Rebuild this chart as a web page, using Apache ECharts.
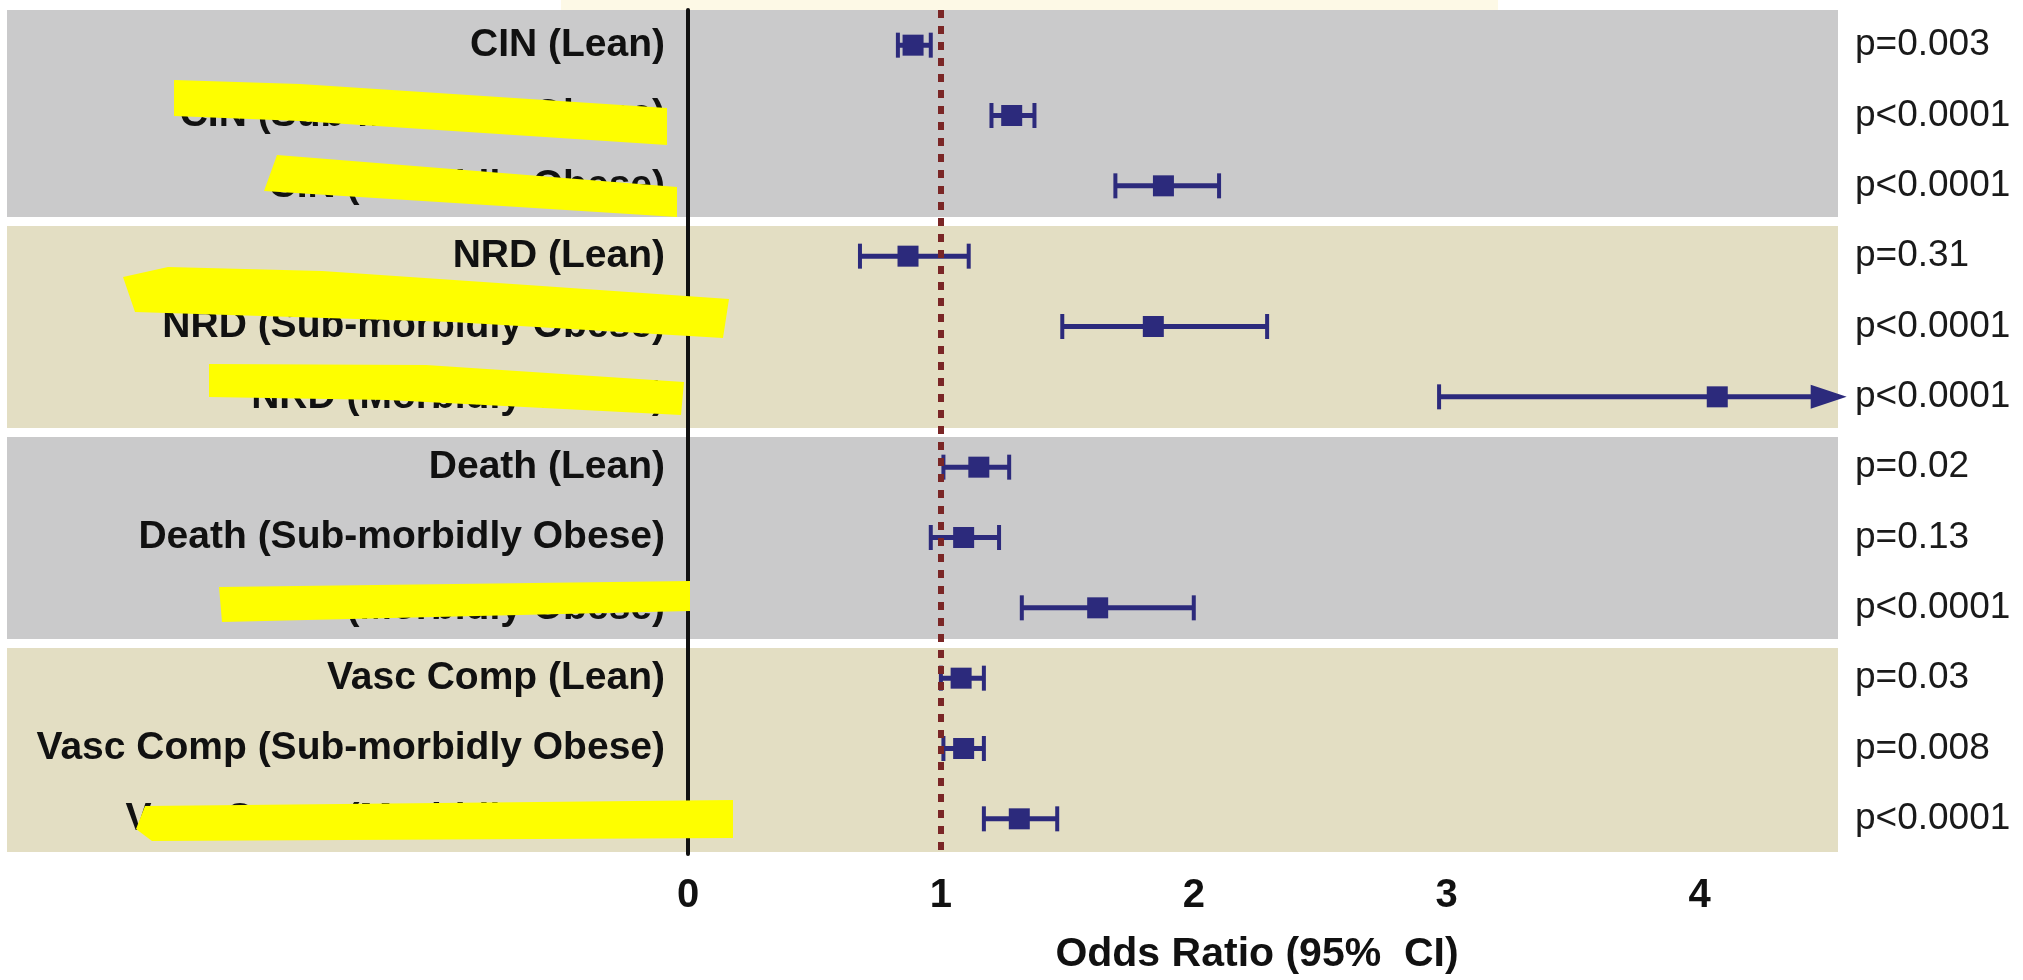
<!DOCTYPE html>
<html>
<head>
<meta charset="utf-8">
<script src="https://cdn.jsdelivr.net/npm/echarts@6/dist/echarts.min.js"></script>
<style>
  html, body { margin: 0; background: #fff; }
  #chart { width: 2023px; height: 980px; }
</style>
</head>
<body>
<div id="chart"></div>
<script>
// rows, top to bottom
var categories = [
  'CIN (Lean)', 'CIN (Sub-morbidly Obese)', 'CIN (Morbidly Obese)',
  'NRD (Lean)', 'NRD (Sub-morbidly Obese)', 'NRD (Morbidly Obese)',
  'Death (Lean)', 'Death (Sub-morbidly Obese)', 'Death (Morbidly Obese)',
  'Vasc Comp (Lean)', 'Vasc Comp (Sub-morbidly Obese)', 'Vasc Comp (Morbidly Obese)'
];
var oddsRatio = [0.89, 1.28, 1.88, 0.87, 1.84, 4.07, 1.15, 1.09, 1.62, 1.08, 1.09, 1.31];
var lowerCI   = [0.83, 1.20, 1.69, 0.68, 1.48, 2.97, 1.01, 0.96, 1.32, 1.00, 1.01, 1.17];
var upperCI   = [0.96, 1.37, 2.10, 1.11, 2.29, 4.57, 1.27, 1.23, 2.00, 1.17, 1.17, 1.46]; // 4.57 = off scale (arrow)
var pValues = [
  'p=0.003', 'p<0.0001', 'p<0.0001',
  'p=0.31', 'p<0.0001', 'p<0.0001',
  'p=0.02', 'p=0.13', 'p<0.0001',
  'p=0.03', 'p=0.008', 'p<0.0001'
];
var xTicks = [0, 1, 2, 3, 4];
var xMax = 4.5;
var refValue = 1;

// background groups (first row, last row)
var groupStart = [0, 3, 6, 9];
var groupEnd = [2, 5, 8, 11];
var bandColors = ['#cacacb', '#e3dec3', '#cacacb', '#e3dec3'];

var navy = '#2c2a7c';
var font = "'Liberation Sans', Arial, sans-serif";

function renderBand(params, api) {
  var cs = params.coordSys;
  var bandH = api.size([0, 1])[1];
  var first = api.value(1), last = api.value(2);
  var y0 = api.coord([0, first])[1] - bandH / 2;
  var y1 = api.coord([0, last])[1] + bandH / 2;
  var top = first === 0 ? y0 : y0 + 5;
  var bottom = last === categories.length - 1 ? y1 - 2 : y1 - 4;
  return {
    type: 'rect',
    shape: { x: 7, y: top, width: cs.x + cs.width + 12 - 7, height: bottom - top },
    style: { fill: bandColors[api.value(3)] }
  };
}

function renderErrorBar(params, api) {
  var lo = api.coord([api.value(0), api.value(2)]);
  var hi = api.coord([api.value(1), api.value(2)]);
  var capH = 25;
  var st = { stroke: navy, lineWidth: 5 };
  var cap = { stroke: navy, lineWidth: 4 };
  var kids = [
    { type: 'line', shape: { x1: lo[0], y1: lo[1] - capH / 2, x2: lo[0], y2: lo[1] + capH / 2 }, style: cap }
  ];
  if (api.value(1) > xMax) {
    kids.push({ type: 'line', shape: { x1: lo[0], y1: lo[1], x2: hi[0] - 32, y2: hi[1] }, style: st });
    kids.push({
      type: 'polygon',
      shape: { points: [[hi[0] + 3, hi[1]], [hi[0] - 33, hi[1] - 12], [hi[0] - 33, hi[1] + 12]] },
      style: { fill: navy }
    });
  } else {
    kids.push({ type: 'line', shape: { x1: lo[0], y1: lo[1], x2: hi[0], y2: hi[1] }, style: st });
    kids.push({ type: 'line', shape: { x1: hi[0], y1: hi[1] - capH / 2, x2: hi[0], y2: hi[1] + capH / 2 }, style: cap });
  }
  return { type: 'group', children: kids };
}

var yellow = '#fefe00';
function stroke(pts) {
  return { type: 'polygon', z: 100, shape: { points: pts }, style: { fill: yellow } };
}

var option = {
  backgroundColor: '#ffffff',
  animation: false,
  grid: { left: 688, right: 197, top: 10, bottom: 125 },
  xAxis: {
    type: 'value',
    min: 0,
    max: xMax,
    interval: 1,
    z: 2,
    splitLine: { show: false },
    axisLine: { lineStyle: { color: '#111', width: 4 } },
    axisTick: { customValues: xTicks, length: 15, lineStyle: { color: '#111', width: 4 } },
    axisLabel: { customValues: xTicks, margin: 22, fontSize: 40, fontWeight: 'bold', color: '#111', fontFamily: font },
    name: 'Odds Ratio (95%  CI)',
    nameLocation: 'middle',
    nameGap: 80,
    nameTextStyle: { fontSize: 41, fontWeight: 'bold', color: '#111', fontFamily: font }
  },
  yAxis: [
    {
      type: 'category',
      data: categories,
      inverse: true,
      z: 2,
      axisLine: { lineStyle: { color: '#111', width: 4 } },
      axisTick: { alignWithLabel: true, length: 13, lineStyle: { color: '#111', width: 4 } },
      axisLabel: { margin: 23, fontSize: 39, fontWeight: 'bold', color: '#111', fontFamily: font },
      splitLine: { show: false }
    },
    {
      type: 'category',
      data: pValues,
      inverse: true,
      position: 'right',
      axisLine: { show: false },
      axisTick: { show: false },
      axisLabel: { margin: 29, fontSize: 37, color: '#1a1a1a', fontFamily: font },
      splitLine: { show: false }
    }
  ],
  series: [
    {
      type: 'custom',
      name: 'bands',
      z: 1,
      silent: true,
      clip: false,
      renderItem: renderBand,
      encode: { x: 0, y: 1 },
      data: groupStart.map(function (s, i) { return [0, s, groupEnd[i], i]; })
    },
    {
      type: 'custom',
      name: 'CI',
      z: 4,
      clip: false,
      renderItem: renderErrorBar,
      encode: { x: [0, 1], y: 2 },
      data: categories.map(function (c, i) { return [lowerCI[i], upperCI[i], i]; })
    },
    {
      type: 'scatter',
      name: 'Odds ratio',
      z: 5,
      symbol: 'rect',
      symbolSize: 21,
      itemStyle: { color: navy, opacity: 1 },
      data: oddsRatio.map(function (v, i) { return [v, i]; }),
      markLine: {
        silent: true,
        symbol: ['none', 'none'],
        label: { show: false },
        lineStyle: { color: '#7a2626', width: 6, type: [8, 8] },
        data: [{ xAxis: refValue }]
      }
    }
  ],
  graphic: [
    { type: 'rect', z: 0, shape: { x: 561, y: 0, width: 937, height: 10 }, style: { fill: '#fdf9e6' } },
    stroke([[174, 80], [300, 84], [667, 108], [667, 145], [300, 121], [174, 116]]),
    stroke([[277, 155], [677, 187], [677, 217], [264, 191]]),
    stroke([[123, 277], [168, 267], [322, 271], [542, 286], [729, 299], [723, 338], [452, 322], [135, 312]]),
    stroke([[209, 364], [426, 365], [684, 382], [681, 415], [387, 400], [209, 397]]),
    stroke([[219, 587], [690, 581], [690, 611], [222, 622]]),
    stroke([[145, 806], [733, 800], [733, 838], [152, 841], [136, 829]])
  ]
};

var myChart = echarts.init(document.getElementById('chart'));
myChart.setOption(option);
</script>
</body>
</html>
